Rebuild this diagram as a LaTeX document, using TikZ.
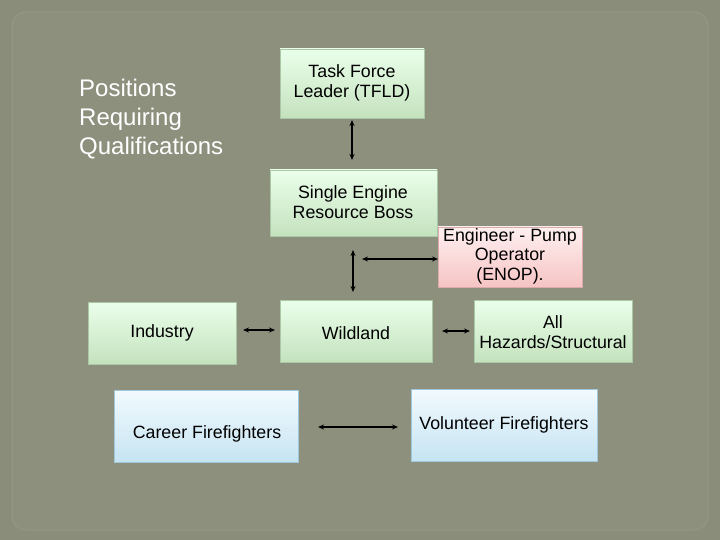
\documentclass[tikz,border=0pt]{standalone}
\usepackage{fontspec}
\setmainfont{Liberation Sans}
\usetikzlibrary{arrows.meta}
\begin{document}
\begin{tikzpicture}[x=1pt,y=-1pt,
  lbl/.style={align=center,font=\fontsize{17.8}{19.5}\selectfont,text=black,inner sep=0pt},
  dar/.style={{Stealth[length=6pt,width=5pt]}-{Stealth[length=6pt,width=5pt]},line width=1.3pt,black}]
\fill[fill={rgb,255:red,139;green,141;blue,123}] (0,0) rectangle (720,540);
\useasboundingbox (0,0) rectangle (720,540);
\draw[rounded corners=14pt,draw={rgb,255:red,150;green,152;blue,134},line width=1pt,fill={rgb,255:red,142;green,144;blue,126}] (12,12) rectangle (708,530);
\colorlet{gtop}{white!92!green}
\definecolor{gbot}{RGB}{196,226,190}
\definecolor{ptop}{RGB}{255,240,240}
\definecolor{pbot}{RGB}{246,196,196}
\definecolor{btop}{RGB}{242,250,255}
\definecolor{bbot}{RGB}{198,228,242}
\tikzset{gbox/.style={top color=gtop,bottom color=gbot,draw={rgb,255:red,170;green,200;blue,165}},
 pbox/.style={top color=ptop,bottom color=pbot,draw={rgb,255:red,220;green,170;blue,170}},
 bbox/.style={top color=btop,bottom color=bbot,draw={rgb,255:red,160;green,200;blue,220}}}
\node[anchor=north west,align=left,font=\fontsize{24}{29}\selectfont,text=white,inner sep=0pt] (pos) at (79,79) {Positions\\Requiring\\Qualifications};
\path[gbox] (280,49) rectangle (424,118); \node[lbl] (tfld) at (352,83) {Task Force\\Leader (TFLD)};
\path[gbox] (270,170) rectangle (437,236); \node[lbl] (serb) at (353,202) {Single Engine\\Resource Boss};
\path[pbox] (438,227) rectangle (582,287); \node[lbl] (enop) at (510,256) {Engineer - Pump\\Operator\\(ENOP).};
\path[gbox] (88,302) rectangle (236,364); \node[lbl] (ind) at (162,333) {Industry};
\path[gbox] (280,300) rectangle (432,362); \node[lbl] (wild) at (356,333) {Wildland};
\path[gbox] (474,300) rectangle (632,362); \node[lbl] (all) at (553,332) {All\\Hazards/Structural};
\path[bbox] (114,390) rectangle (298,462); \node[lbl] (car) at (207,434) {Career Firefighters};
\path[bbox] (411,389) rectangle (597,461); \node[lbl] (vol) at (504,425) {Volunteer Firefighters};
\coordinate (a1) at (352,120); \coordinate (a2) at (352,160);
\coordinate (b1) at (353,250); \coordinate (b2) at (353,292);
\coordinate (c1) at (362,259); \coordinate (c2) at (438,259);
\coordinate (d1) at (243,330); \coordinate (d2) at (275,330);
\coordinate (e1) at (442,331); \coordinate (e2) at (470,331);
\coordinate (f1) at (318,427); \coordinate (f2) at (398,427);
\foreach \p/\q in {a1/a2,b1/b2,c1/c2,d1/d2,e1/e2,f1/f2} \draw[dar] (\p) -- (\q);
\end{tikzpicture}
\end{document}
